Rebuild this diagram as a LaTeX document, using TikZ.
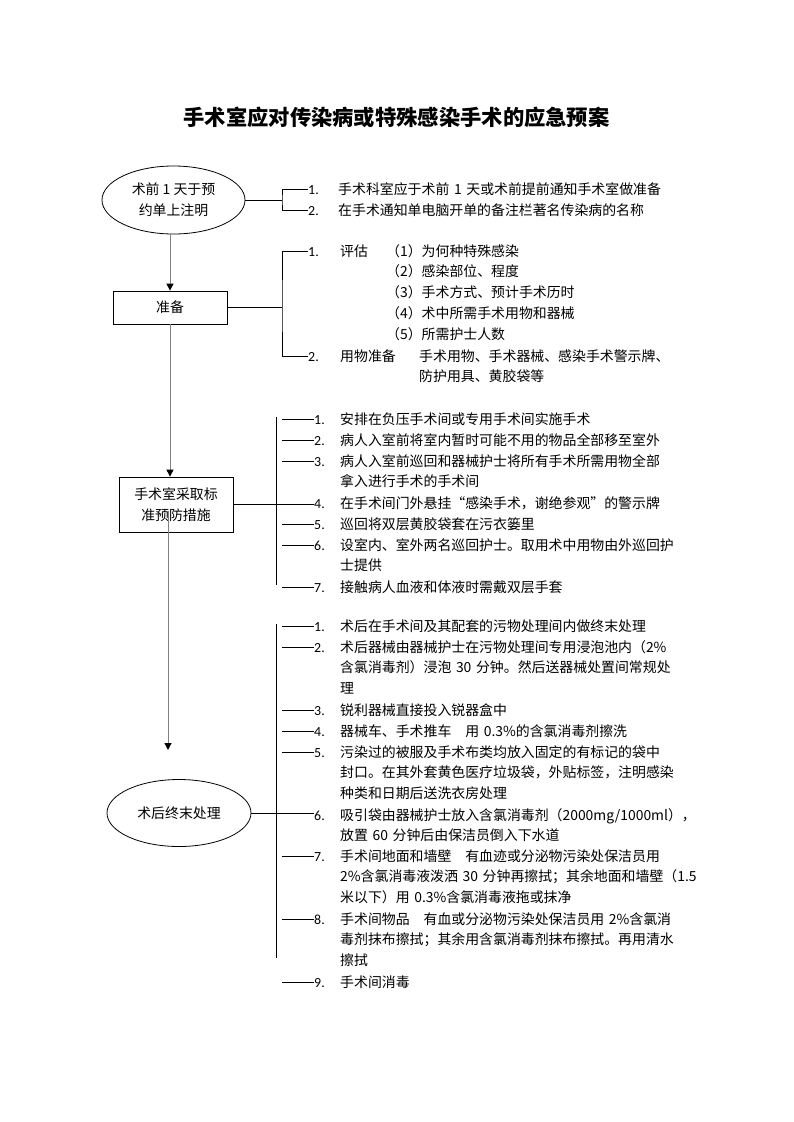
\documentclass[tikz,border=0pt]{standalone}
\usepackage{fontspec}
\setmainfont{Noto Sans CJK SC}
\newfontfamily\numfont{Carlito}
\usetikzlibrary{calc}
\usetikzlibrary{shapes.geometric}
\usetikzlibrary{arrows.meta}

\begin{document}
\begin{tikzpicture}[x=1pt,y=-1pt]
    \tikzset{oval/.style={ellipse, draw=black, line width=0.8pt, inner sep=0pt, align=center, font=\fontsize{13.9}{20.9}\selectfont},
      stepbox/.style={rectangle, draw=black, line width=0.8pt, inner sep=0pt, align=center, font=\fontsize{13.9}{21.5}\selectfont},
      num/.style={anchor=base west, inner sep=0pt, font=\numfont\fontsize{13.9}{20.9}\selectfont},
      item/.style={anchor=base west, inner sep=0pt, text width=400pt, align=left, font=\fontsize{13.9}{20.9}\selectfont},
      link/.style={line width=0.9pt},
      arr/.style={draw=black!50, line width=1pt, -{Triangle[color=black, width=7pt, length=7pt]}}}
    
    \useasboundingbox (0,0) rectangle (793,1122);
    
    \node[font=\bfseries\fontsize{21.3}{25}\selectfont] (title) at (396.5,117) {手术室应对传染病或特殊感染手术的应急预案};
    
    %steps on the left
    \node[oval, minimum width=143pt, minimum height=68pt] (note) at (173.5,200) {术前 1 天于预\\约单上注明};
    \node[stepbox, minimum width=114pt, minimum height=33pt] (prep) at (170,307.5) {准备};
    \node[stepbox, minimum width=114pt, minimum height=55pt] (guard) at (176,504.5) {手术室采取标\\准预防措施};
    \node[oval, minimum width=144pt, minimum height=67pt] (final) at (179,813) {术后终末处理};
    
    \coordinate (dropstart) at (168,511);
    \coordinate (dropend) at (168,750);
    \draw[arr] (prep.north |- note.south) -- (prep.north);
    \draw[arr] (prep.south) -- (prep.south |- guard.north);
    \draw[arr] (dropstart) -- (dropend);
    
    %Before surgery
    \node[num] (n11) at (308,194) {1.};
    \node[num] (n12) at (308,215) {2.};
    \node[item] (t11) at (338,194) {手术科室应于术前 1 天或术前提前通知手术室做准备};
    \node[item] (t12) at (338,215) {在手术通知单电脑开单的备注栏著名传染病的名称};
    \coordinate (br1) at (282,200);
    \draw[link] (note) -- (br1);
    \draw[link] (n11.west) -| (br1) |- (n12.west);
    
    %Preparation
    \node[num] (n21) at (308,256) {1.};
    \node[num] (n22) at (308,361) {2.};
    \node[item, text width=40pt] (t21) at (340,256) {评估};
    \node[item, text width=300pt] (t21a) at (386,256) {（1）为何种特殊感染\\（2）感染部位、程度\\（3）手术方式、预计手术历时\\（4）术中所需手术用物和器械\\（5）所需护士人数};
    \node[item, text width=70pt] (t22) at (340,361) {用物准备};
    \node[item, text width=300pt] (t22a) at (419,361) {手术用物、手术器械、感染手术警示牌、\\防护用具、黄胶袋等};
    \coordinate (br2) at (282,307.5);
    \draw[link] (prep) -- (br2);
    \draw[link] (n21.west) -| (br2) |- (n22.west);
    
    %Standard precautions
    \node[num] (n31) at (314,424) {1.};
    \node[num] (n32) at (314,445) {2.};
    \node[num] (n33) at (314,466) {3.};
    \node[num] (n34) at (314,508) {4.};
    \node[num] (n35) at (314,529) {5.};
    \node[num] (n36) at (314,550) {6.};
    \node[num] (n37) at (314,592) {7.};
    \node[item] (t31) at (340,424) {安排在负压手术间或专用手术间实施手术};
    \node[item] (t32) at (340,445) {病人入室前将室内暂时可能不用的物品全部移至室外};
    \node[item] (t33) at (340,466) {病人入室前巡回和器械护士将所有手术所需用物全部\\拿入进行手术的手术间};
    \node[item] (t34) at (340,508) {在手术间门外悬挂“感染手术，谢绝参观”的警示牌};
    \node[item] (t35) at (340,529) {巡回将双层黄胶袋套在污衣篓里};
    \node[item] (t36) at (340,550) {设室内、室外两名巡回护士。取用术中用物由外巡回护\\士提供};
    \node[item] (t37) at (340,592) {接触病人血液和体液时需戴双层手套};
    \coordinate (bar3top) at (276,417);
    \coordinate (bar3end) at (276,585);
    \draw[link] (bar3top) -- (bar3end);
    \draw[link] (guard.east) -- (guard.east -| n34.west);
    \foreach \n in {n31,n32,n33,n35,n36,n37}
      \draw[link] (\n.west) -- ++(-32,0);
    
    %After surgery
    \node[num] (n41) at (314,631) {1.};
    \node[num] (n42) at (314,652) {2.};
    \node[num] (n43) at (314,715) {3.};
    \node[num] (n44) at (314,736) {4.};
    \node[num] (n45) at (314,757) {5.};
    \node[num] (n46) at (314,820) {6.};
    \node[num] (n47) at (314,861) {7.};
    \node[num] (n48) at (314,924) {8.};
    \node[num] (n49) at (314,987) {9.};
    \node[item] (t41) at (340,631) {术后在手术间及其配套的污物处理间内做终末处理};
    \node[item] (t42) at (340,652) {术后器械由器械护士在污物处理间专用浸泡池内（2\%\\含氯消毒剂）浸泡 30 分钟。然后送器械处置间常规处\\理};
    \node[item] (t43) at (340,715) {锐利器械直接投入锐器盒中};
    \node[item] (t44) at (340,736) {器械车、手术推车\quad 用 0.3\%的含氯消毒剂擦洗};
    \node[item] (t45) at (340,757) {污染过的被服及手术布类均放入固定的有标记的袋中\\封口。在其外套黄色医疗垃圾袋，外贴标签，注明感染\\种类和日期后送洗衣房处理};
    \node[item] (t46) at (340,820) {吸引袋由器械护士放入含氯消毒剂（2000mg/1000ml），\\放置 60 分钟后由保洁员倒入下水道};
    \node[item] (t47) at (340,861) {手术间地面和墙壁\quad 有血迹或分泌物污染处保洁员用\\2\%含氯消毒液泼洒 30 分钟再擦拭；其余地面和墙壁（1.5\\米以下）用 0.3\%含氯消毒液拖或抹净};
    \node[item] (t48) at (340,924) {手术间物品\quad 有血或分泌物污染处保洁员用 2\%含氯消\\毒剂抹布擦拭；其余用含氯消毒剂抹布擦拭。再用清水\\擦拭};
    \node[item] (t49) at (340,987) {手术间消毒};
    \coordinate (bar4top) at (276,624);
    \coordinate (bar4end) at (276,958);
    \draw[link] (bar4top) -- (bar4end);
    \draw[link] (final.east) -- (final.east -| n46.west);
    \foreach \n in {n41,n42,n43,n44,n45,n47,n48,n49}
      \draw[link] (\n.west) -- ++(-32,0);
\end{tikzpicture}
\end{document}
